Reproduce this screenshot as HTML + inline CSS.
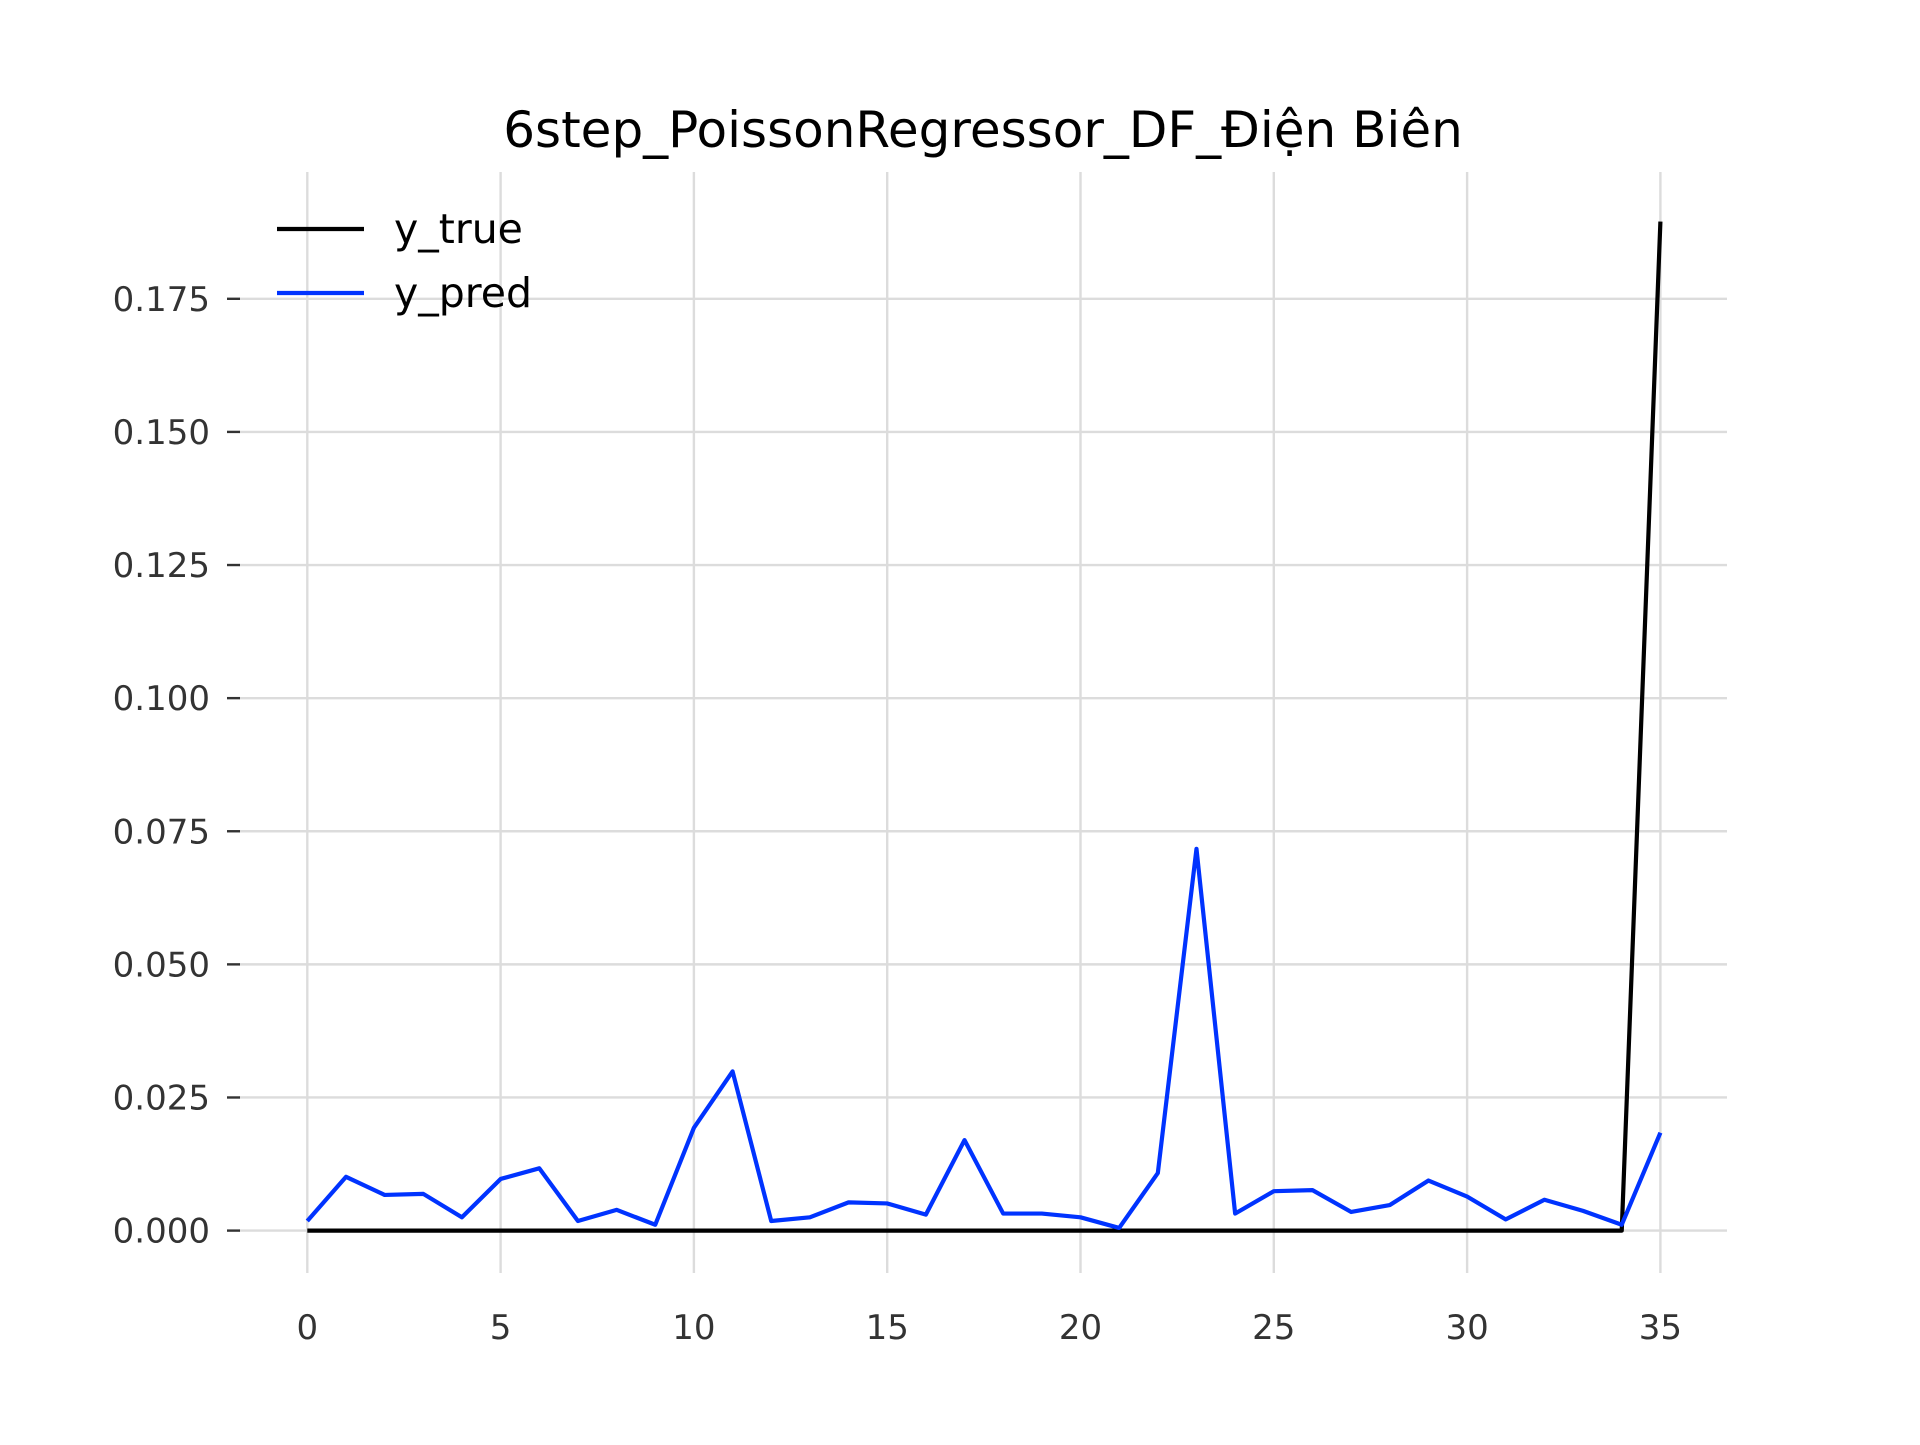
<!DOCTYPE html>
<html><head><meta charset="utf-8"><style>
html,body{margin:0;padding:0;background:#fff;}
svg text{font-family:"DejaVu Sans","Liberation Sans",sans-serif;}
</style></head><body>
<svg id="chart" width="1920" height="1440" viewBox="0 0 1920 1440" xmlns="http://www.w3.org/2000/svg">
<rect width="1920" height="1440" fill="#fff"/>
<g id="grid"></g>
<g id="ticks"></g>
<g id="series"></g>
<text x="983" y="147" font-size="50" text-anchor="middle" fill="#000">6step_PoissonRegressor_DF_Điện Biên</text>
<g>
<line x1="277" y1="229" x2="364" y2="229" stroke="#000" stroke-width="4.2"/>
<text x="394" y="243" font-size="41" fill="#000">y_true</text>
<line x1="277" y1="293" x2="364" y2="293" stroke="#0033ff" stroke-width="4.2"/>
<text x="394" y="307" font-size="41" fill="#000">y_pred</text>
</g>
</svg>
<script>
const xValues = Array.from({length:36},(_,i)=>i);
const yTrue = [0,0,0,0,0,0,0,0,0,0,0,0,0,0,0,0,0,0,0,0,0,0,0,0,0,0,0,0,0,0,0,0,0,0,0,0.1895];
const yPred = [0.0018,0.0101,0.0067,0.0069,0.0025,0.0097,0.0117,0.0018,0.0039,0.0011,0.0193,0.0299,0.0018,0.0025,0.0053,0.0051,0.003,0.017,0.0032,0.0032,0.0025,0.0005,0.0108,0.0717,0.0032,0.0074,0.0076,0.0035,0.0048,0.0094,0.0064,0.0021,0.0058,0.0037,0.0011,0.0184];
const xTicks = [0,5,10,15,20,25,30,35];
const yTicks = [0,0.025,0.05,0.075,0.1,0.125,0.15,0.175];
const yTickLabels = ["0.000","0.025","0.050","0.075","0.100","0.125","0.150","0.175"];

const NS="http://www.w3.org/2000/svg";
const X=v=>307.3+(1660.4-307.3)*v/35;
const Y=v=>1230.6-(1230.6-298.8)*v/0.175;
const L={x0:239,x1:1727,y0:172,y1:1273};
function mk(tag,attrs,parent){const e=document.createElementNS(NS,tag);for(const k in attrs)e.setAttribute(k,attrs[k]);parent.appendChild(e);return e;}
const grid=document.getElementById('grid'),ticks=document.getElementById('ticks'),series=document.getElementById('series');
xTicks.forEach(t=>{
  const l=mk('line',{x1:X(t),x2:X(t),y1:L.y0,y2:L.y1,stroke:'#dcdcdc','stroke-width':2.4},grid);
  
  
  const tx=mk('text',{x:X(t),y:1339,'font-size':34,'text-anchor':'middle',fill:'#333'},ticks);
  tx.textContent=t;
  
  
});
yTicks.forEach((t,i)=>{
  const l=mk('line',{x1:L.x0,x2:L.x1,y1:Y(t),y2:Y(t),stroke:'#dcdcdc','stroke-width':2.4},grid);
  
  
  const tk=mk('line',{x1:227,x2:240,y1:Y(t),y2:Y(t),stroke:'#333','stroke-width':2.4},ticks);
  
  
  const tx=mk('text',{x:210,y:Y(t)+12,'font-size':34,'text-anchor':'end',fill:'#333'},ticks);
  tx.textContent=yTickLabels[i];
  
  
});
function pts(arr){return arr.map((v,i)=>X(xValues[i])+','+Y(v)).join(' ');}
const pTrue=mk('polyline',{points:pts(yTrue),fill:'none',stroke:'#000','stroke-width':4.2,'stroke-linejoin':'round'},series);


const pPred=mk('polyline',{points:pts(yPred),fill:'none',stroke:'#0033ff','stroke-width':4.2,'stroke-linejoin':'round'},series);


</script>
</body></html>
